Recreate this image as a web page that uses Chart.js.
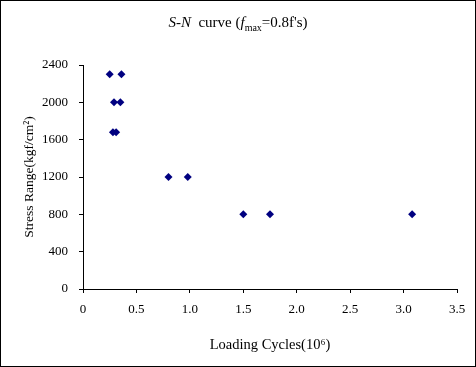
<!DOCTYPE html>
<html>
<head>
<meta charset="utf-8">
<script src="https://cdn.jsdelivr.net/npm/chart.js@4/dist/chart.umd.min.js"></script>
<style>
  html, body { margin: 0; padding: 0; background: #fff; }
  #wrap { width: 476px; height: 367px; border: 1px solid #000; box-sizing: border-box; }
  canvas { display: block; }
</style>
</head>
<body>
<div id="wrap"><canvas id="chart" width="474" height="365"></canvas></div>
<script>
// loading cycles (x 10^6) and stress range (kgf/cm2)
const cycles = [0.25, 0.36, 0.29, 0.35, 0.28, 0.31, 0.80, 0.98, 1.50, 1.75, 3.08];
const stress = [2300, 2300, 2000, 2000, 1680, 1680, 1200, 1200, 800, 800, 800];

const xTitle = 'Loading Cycles(10\u2076)';
const yTitle = 'Stress Range(kgf/cm\u00b2)';

const serif = "'Liberation Serif', 'Times New Roman', serif";

// title with italic parts and the subscript
const titlePlugin = {
  id: 'snTitle',
  afterDraw(chart) {
    const c = chart.ctx;
    const parts = [
      { t: 'S-N', f: 'italic 15px ' + serif, dy: 0 },
      { t: '  curve (', f: '15px ' + serif, dy: 0 },
      { t: 'f', f: 'italic 15px ' + serif, dy: 0 },
      { t: 'max', f: '10px ' + serif, dy: 4 },
      { t: '=0.8f\'s)', f: '15px ' + serif, dy: 0 }
    ];
    c.save();
    c.fillStyle = '#000';
    c.textBaseline = 'alphabetic';
    let total = 0;
    parts.forEach(p => { c.font = p.f; total += c.measureText(p.t).width; });
    let x = chart.width / 2 - total / 2;
    const y = 26;
    parts.forEach(p => {
      c.font = p.f;
      c.fillText(p.t, x, y + p.dy);
      x += c.measureText(p.t).width;
    });
    c.restore();
  }
};

const ctx = document.getElementById('chart').getContext('2d');

new Chart(ctx, {
  type: 'scatter',
  data: {
    datasets: [{
      data: cycles.map((c, i) => ({ x: c, y: stress[i] })),
      pointStyle: 'rectRot',
      pointRadius: 4,
      pointHoverRadius: 4,
      backgroundColor: '#000080',
      borderColor: '#000080',
      borderWidth: 0
    }]
  },
  options: {
    responsive: false,
    animation: false,
    layout: { padding: { left: 0, right: 18, top: 64, bottom: 0 } },
    plugins: {
      legend: { display: false },
      tooltip: { enabled: false }
    },
    scales: {
      x: {
        type: 'linear',
        min: 0,
        max: 3.5,
        afterFit: s => { s.height = 77; },
        ticks: {
          stepSize: 0.5,
          color: '#000',
          padding: 9,
          maxRotation: 0,
          font: { family: serif, size: 13 }
        },
        grid: { drawOnChartArea: false, tickLength: 4, color: '#000', tickColor: '#000' },
        border: { color: '#000', width: 1 },
        title: {
          display: true,
          text: xTitle,
          color: '#000',
          font: { family: serif, size: 14.5 },
          padding: { top: 0, bottom: 12 }
        }
      },
      y: {
        min: 0,
        max: 2400,
        afterFit: s => { s.width = 82; },
        ticks: {
          stepSize: 400,
          color: '#000',
          padding: 11,
          font: { family: serif, size: 13 },
          callback: v => String(v)
        },
        grid: { drawOnChartArea: false, tickLength: 4, color: '#000', tickColor: '#000' },
        border: { color: '#000', width: 1 },
        title: {
          display: true,
          text: yTitle,
          color: '#000',
          font: { family: serif, size: 13.5 },
          padding: { top: 20, bottom: 0 }
        }
      }
    }
  },
  plugins: [titlePlugin]
});
</script>
</body>
</html>
